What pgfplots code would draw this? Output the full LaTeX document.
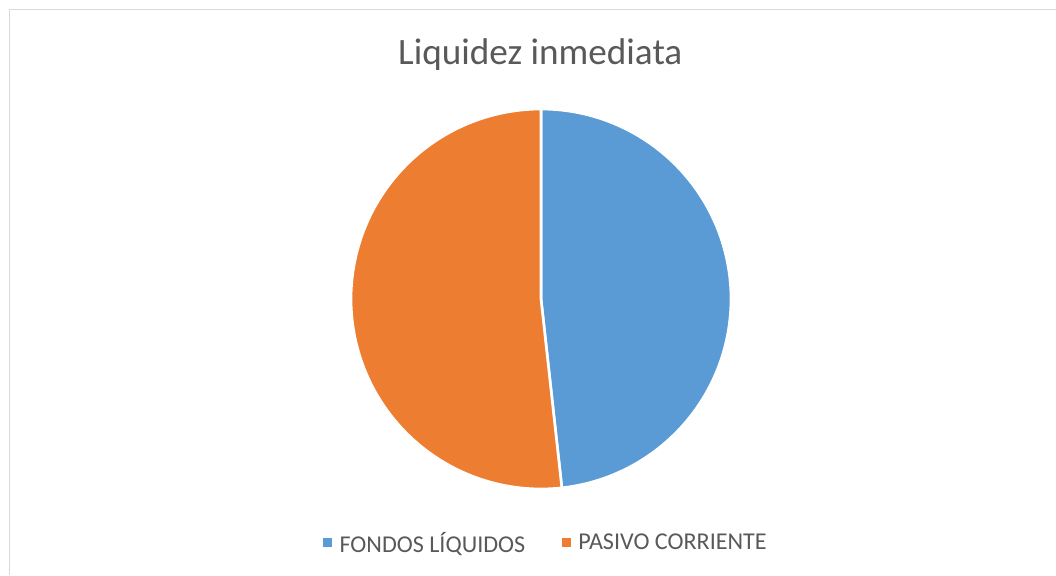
\documentclass[border=0pt]{standalone}
\usepackage{pgfplots}
\pgfplotsset{compat=1.18}
\usepackage{fontspec}
\setmainfont{Carlito}
\definecolor{pblue}{HTML}{5B9BD5}
\definecolor{porange}{HTML}{ED7D31}
\definecolor{tgray}{HTML}{595959}
\begin{document}
\begin{tikzpicture}[x=1pt,y=1pt]
\useasboundingbox (0,0) rectangle (792,431.25);
\draw[color=black!15, line width=1pt] (7.1,0) -- (7.1,424.1) -- (792,424.1);
\node[text=tgray, font=\fontsize{27.9}{33}\selectfont] at (405.2,390.5) {Liquidez inmediata};
\pgfmathsetmacro{\va}{48.25}
\pgfmathsetmacro{\vb}{51.75}
\pgfmathsetmacro{\aend}{90-3.6*\va}
\pgfmathsetmacro{\bend}{\aend-3.6*\vb}
\begin{axis}[at={(405.75pt,207pt)}, anchor=center, width=285pt, height=285pt,
  scale only axis, xmin=-1, xmax=1, ymin=-1, ymax=1, hide axis, clip=false,
  legend columns=2,
  legend style={at={(0.514,-0.142)}, anchor=center, draw=none, fill=none,
    font=\fontsize{18.1}{21}\selectfont, text=tgray,
    /tikz/every even column/.append style={column sep=25.5pt}},
  legend image code/.code={\fill[#1, draw=none] (0pt,-3.4pt) rectangle (6.75pt,3.4pt); \path (9.25pt,0pt);},
]
\addplot[fill=pblue, draw=white, line width=2pt, domain=90:\aend, samples=120]
  ({cos(x)},{sin(x)}) -- (axis cs:0,0) -- cycle;
\addlegendentry{FONDOS LÍQUIDOS}
\addplot[fill=porange, draw=white, line width=2pt, domain=\aend:\bend, samples=120]
  ({cos(x)},{sin(x)}) -- (axis cs:0,0) -- cycle;
\addlegendentry{PASIVO CORRIENTE}
\end{axis}
\end{tikzpicture}
\end{document}
